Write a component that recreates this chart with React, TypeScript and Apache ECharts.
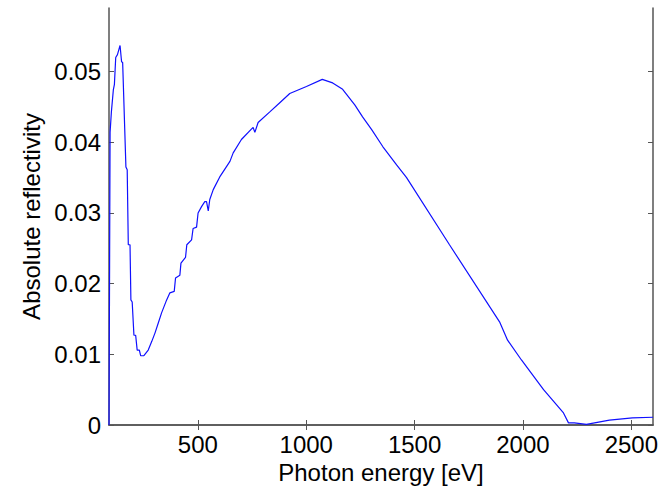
import React, { useEffect, useRef } from "react";
import * as echarts from "echarts";

const energy = [
  90, 95, 101, 110, 115, 121, 129, 141, 148, 153, 168, 174, 179, 187, 191, 197,
  205, 213, 220, 230, 236, 251, 271, 287, 302, 317, 333, 356, 371, 391, 397, 417,
  422, 443, 449, 471, 478, 494, 501, 517, 532, 540, 548, 555, 571, 601, 648, 663,
  701, 748, 755, 763, 778, 832, 878, 924, 1001, 1074, 1122, 1168, 1224, 1260,
  1302, 1353, 1417, 1463, 1661, 1892, 1929, 1993, 2095, 2187, 2210, 2237, 2293,
  2399, 2505, 2600,
];
const reflectivity = [
  0.0, 0.0414, 0.0443, 0.0474, 0.0482, 0.052, 0.0524, 0.0537, 0.0514, 0.0513,
  0.0365, 0.0361, 0.0255, 0.0255, 0.0177, 0.0174, 0.0127, 0.0127, 0.0106,
  0.0106, 0.0098, 0.0098, 0.0106, 0.0118, 0.013, 0.0144, 0.0159, 0.0177,
  0.0187, 0.0189, 0.0208, 0.0212, 0.0229, 0.0237, 0.0255, 0.0262, 0.0278,
  0.028, 0.03, 0.0309, 0.0316, 0.0316, 0.0303, 0.0319, 0.0333, 0.0351, 0.0373,
  0.0385, 0.0404, 0.0419, 0.0421, 0.0414, 0.0428, 0.0443, 0.0456, 0.0469,
  0.0479, 0.0489, 0.0484, 0.0475, 0.0453, 0.0436, 0.0418, 0.0394, 0.0368,
  0.035, 0.0255, 0.0146, 0.012, 0.0092, 0.005, 0.0017, 0.0003, 0.0003, 0.0001,
  0.0007, 0.001, 0.0011,
];
const xTickValues = [500, 1000, 1500, 2000, 2500];
const yTickValues = [0, 0.01, 0.02, 0.03, 0.04, 0.05];

const FONT = "'Liberation Sans', Arial, Helvetica, sans-serif";

export default function App() {
  const ref = useRef<HTMLDivElement>(null);
  useEffect(() => {
    if (!ref.current) return;
    const chart = echarts.init(ref.current, undefined, { renderer: "svg" });
    const frame = { show: true, lineStyle: { color: "#555555", width: 1.5 } };
    const tick = (vals: number[]) => ({
      show: true,
      inside: true,
      length: 5,
      customValues: vals,
      lineStyle: { color: "#555555", width: 1 },
    });
    chart.setOption({
      animation: false,
      backgroundColor: "#ffffff",
      grid: { left: 109, right: 12, top: 8, bottom: 67, containLabel: false },
      xAxis: [
        {
          type: "value",
          min: 90,
          max: 2600,
          position: "bottom",
          axisLine: frame,
          axisTick: tick(xTickValues),
          splitLine: { show: false },
          axisLabel: {
            customValues: xTickValues,
            color: "#000",
            fontFamily: FONT,
            fontSize: 24,
            margin: 7,
            formatter: (v: number) => String(v),
          },
          name: "Photon energy [eV]",
          nameLocation: "middle",
          nameGap: 32,
          nameTextStyle: { color: "#000", fontFamily: FONT, fontSize: 24 },
        },
        {
          type: "value",
          min: 90,
          max: 2600,
          position: "top",
          axisLine: frame,
          axisTick: tick(xTickValues),
          splitLine: { show: false },
          axisLabel: { show: false },
        },
      ],
      yAxis: [
        {
          type: "value",
          min: 0,
          max: 0.059,
          position: "left",
          axisLine: frame,
          axisTick: tick(yTickValues),
          splitLine: { show: false },
          axisLabel: {
            customValues: yTickValues,
            color: "#000",
            fontFamily: FONT,
            fontSize: 24,
            margin: 8,
            formatter: (v: number) => (v === 0 ? "0" : v.toFixed(2)),
          },
          name: "Absolute reflectivity",
          nameLocation: "middle",
          nameGap: 64,
          nameTextStyle: { color: "#000", fontFamily: FONT, fontSize: 24 },
        },
        {
          type: "value",
          min: 0,
          max: 0.059,
          position: "right",
          axisLine: frame,
          axisTick: tick(yTickValues),
          splitLine: { show: false },
          axisLabel: { show: false },
        },
      ],
      series: [
        {
          type: "line",
          xAxisIndex: 0,
          yAxisIndex: 0,
          data: energy.map((e, i) => [e, reflectivity[i]]),
          showSymbol: false,
          symbol: "none",
          lineStyle: { color: "#1010ff", width: 1.2 },
        },
      ],
    });
    return () => chart.dispose();
  }, []);
  return (
    <div
      ref={ref}
      style={{ position: "absolute", left: 0, top: 0, width: 665, height: 492 }}
    />
  );
}
